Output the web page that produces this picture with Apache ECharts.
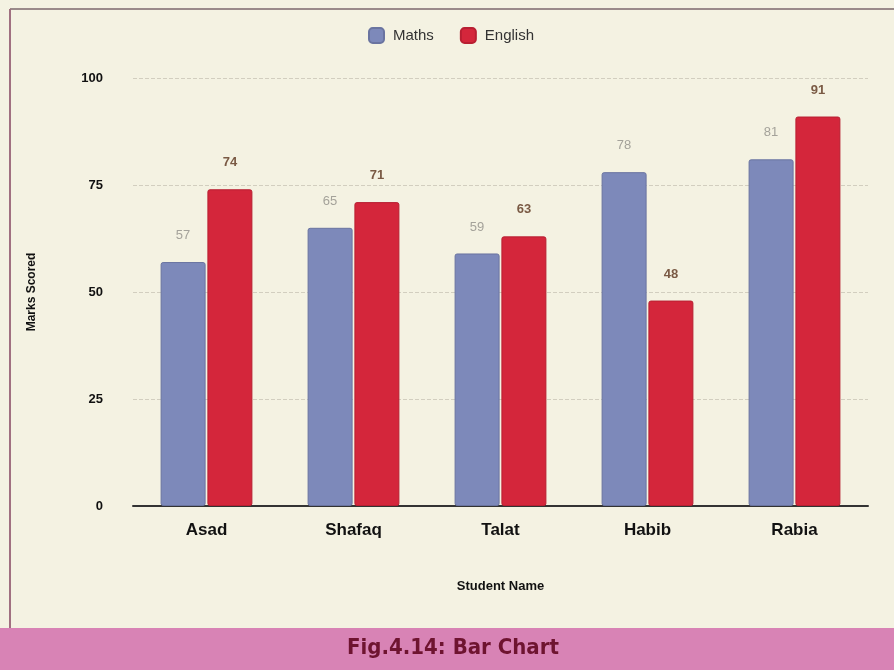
<!DOCTYPE html>
<html>
<head>
<meta charset="utf-8">
<title>Bar Chart</title>
<script src="https://cdn.jsdelivr.net/npm/echarts@6/dist/echarts.min.js"></script>
<style>
  html, body { margin: 0; padding: 0; background: #f4f2e2; }
  #chart { width: 894px; height: 670px; }
</style>
</head>
<body>
<div id="chart"></div>
<script>
// Marks per student, two subjects
const students = ['Asad', 'Shafaq', 'Talat', 'Habib', 'Rabia'];
const maths = [57, 65, 59, 78, 81];
const english = [74, 71, 63, 48, 91];
const yTicks = [0, 25, 50, 75, 100];

const chart = echarts.init(document.getElementById('chart'));

chart.setOption({
  backgroundColor: '#f4f2e2',
  animation: false,
  textStyle: { fontFamily: 'Liberation Sans, Arial, sans-serif' },
  legend: {
    top: 22,
    left: 363,
    itemWidth: 15,
    itemHeight: 15,
    itemGap: 26,
    icon: 'roundRect',
    textStyle: { fontSize: 15, color: '#333', padding: [0, 0, 0, 4] },
    data: ['Maths', 'English']
  },
  grid: { left: 133, right: 26, top: 78, bottom: 164, containLabel: false },
  xAxis: {
    type: 'category',
    data: students,
    name: 'Student Name',
    nameLocation: 'middle',
    nameGap: 74,
    nameTextStyle: { fontSize: 13, fontWeight: 'bold', color: '#111' },
    axisLine: { lineStyle: { color: '#333', width: 2 } },
    axisTick: { show: false },
    axisLabel: { fontSize: 17, fontWeight: 'bold', color: '#111', margin: 16 }
  },
  yAxis: {
    type: 'value',
    min: yTicks[0],
    max: yTicks[yTicks.length - 1],
    interval: 25,
    name: 'Marks Scored',
    nameLocation: 'middle',
    nameGap: 95,
    nameTextStyle: { fontSize: 12, fontWeight: 'bold', color: '#111' },
    axisLine: { show: false },
    axisTick: { show: false },
    axisLabel: { fontSize: 13, fontWeight: 'bold', color: '#111', margin: 30 },
    splitLine: { lineStyle: { color: '#d2cebf', type: 'dashed', width: 1 } }
  },
  series: [
    {
      name: 'Maths',
      type: 'bar',
      data: maths,
      barWidth: 45,
      barGap: '4%',
      itemStyle: { color: '#7d89ba', borderColor: '#6a74a0', borderWidth: 1, borderRadius: 2 },
      label: { show: true, position: 'top', distance: 20, fontSize: 13, color: '#a4a29a' }
    },
    {
      name: 'English',
      type: 'bar',
      data: english,
      barWidth: 45,
      itemStyle: { color: '#d4263b', borderColor: '#b81f32', borderWidth: 1, borderRadius: 2 },
      label: { show: true, position: 'top', distance: 20, fontSize: 13, color: '#7a5a44', fontWeight: 'bold' }
    }
  ],
  graphic: [
    // page frame
    { type: 'line', shape: { x1: 10, y1: 9, x2: 894, y2: 9 }, style: { stroke: '#9a8a8a', lineWidth: 2 } },
    { type: 'line', shape: { x1: 10, y1: 9, x2: 10, y2: 630 }, style: { stroke: '#a07080', lineWidth: 2 } },
    // caption band
    { type: 'rect', shape: { x: 0, y: 628, width: 894, height: 42 }, style: { fill: '#d883b5' } },
    {
      type: 'text', left: 347, top: 637,
      style: { text: 'Fig.4.14: Bar Chart', fontSize: 22, fontWeight: 'bold',
               fontFamily: 'DejaVu Sans Condensed, DejaVu Sans, sans-serif', fill: '#6e1430' }
    }
  ]
});
</script>
</body>
</html>
